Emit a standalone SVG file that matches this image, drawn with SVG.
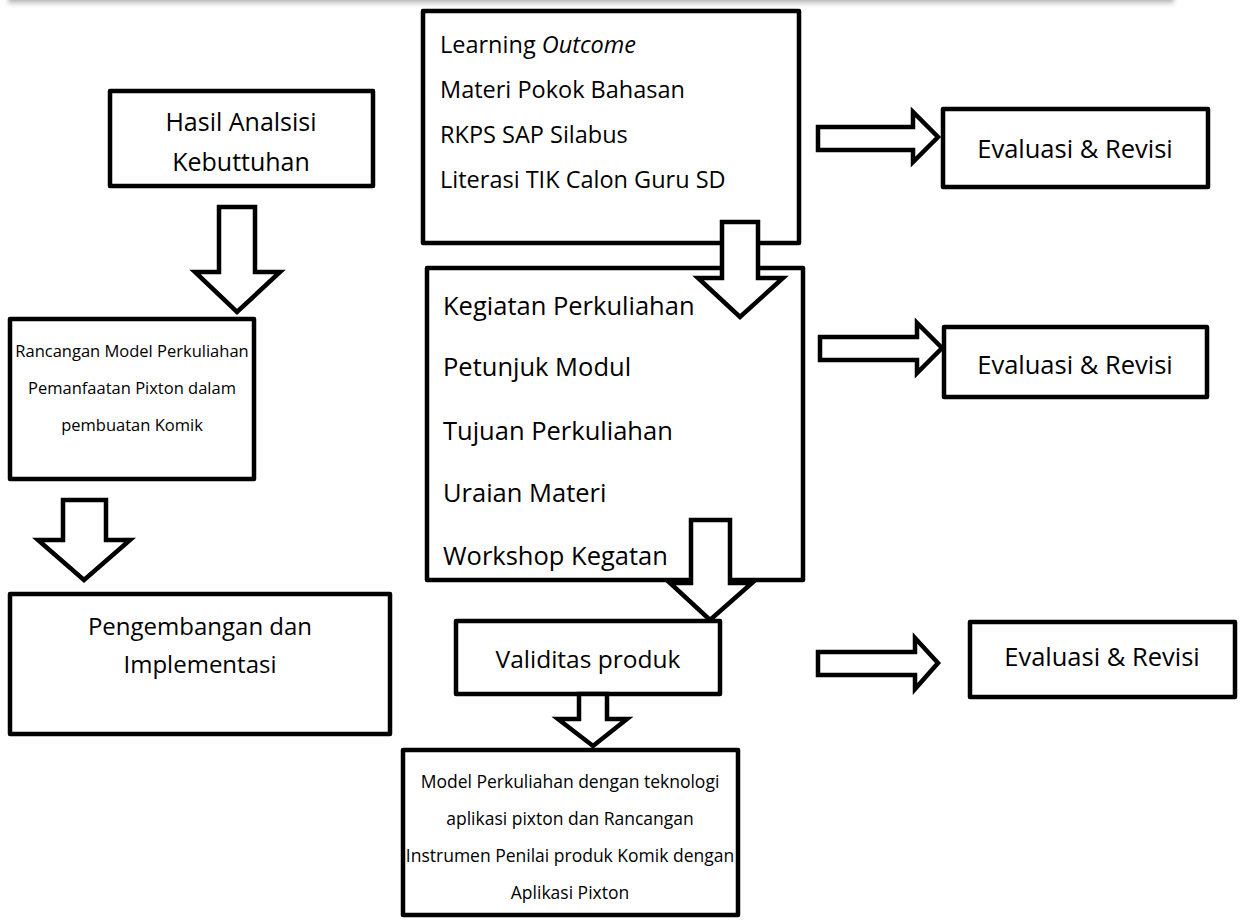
<svg xmlns="http://www.w3.org/2000/svg" width="1241" height="922" viewBox="0 0 1241 922">
<defs>
<linearGradient id="shadow" x1="0" y1="0" x2="0" y2="1">
<stop offset="0" stop-color="#8a8a8a"/>
<stop offset="1" stop-color="#ffffff"/>
</linearGradient>
<filter id="blur" x="-5%" y="-100%" width="110%" height="300%"><feGaussianBlur stdDeviation="2"/></filter>
<style>
.box{fill:#fff;stroke:#000;stroke-width:4.5;stroke-linejoin:round}
.arr{fill:#fff;stroke:#000;stroke-width:4.5;stroke-linejoin:miter}
text{font-family:"Open Sans","Liberation Sans",sans-serif;fill:#000}
.c{text-anchor:middle}
.l{font-size:23.5px}
.k{font-size:25.5px}
.e{font-size:25.5px}
.s{font-size:17.5px}
.r{font-size:16.5px}
</style>
</defs>
<rect width="1241" height="922" fill="#fff"/>
<rect x="8" y="-4" width="1166" height="10" fill="url(#shadow)" filter="url(#blur)"/>

<g id="hasil">
<rect class="box" x="110" y="91" width="263" height="95"/>
<text class="c" font-size="25px" x="241" y="131">Hasil Analsisi</text>
<text class="c" font-size="25px" x="241" y="171">Kebuttuhan</text>
</g>

<g id="rancangan">
<rect class="box" x="10" y="319" width="244" height="160"/>
<text class="c r" x="132" y="357">Rancangan Model Perkuliahan</text>
<text class="c r" x="132" y="394">Pemanfaatan Pixton dalam</text>
<text class="c r" x="132" y="431">pembuatan Komik</text>
</g>

<g id="pengembangan">
<rect class="box" x="10" y="594" width="380" height="140"/>
<text class="c" font-size="24px" x="200" y="635">Pengembangan dan</text>
<text class="c" font-size="24px" x="200" y="673">Implementasi</text>
</g>

<g id="learning">
<rect class="box" x="423" y="11" width="376" height="232"/>
<text class="l" x="440" y="53">Learning <tspan font-style="italic">Outcome</tspan></text>
<text class="l" x="440" y="98">Materi Pokok Bahasan</text>
<text class="l" x="440" y="143">RKPS SAP Silabus</text>
<text class="l" x="440" y="188">Literasi TIK Calon Guru SD</text>
</g>

<g id="kegiatan">
<rect class="box" x="427" y="268" width="376" height="312"/>
<text class="k" x="443" y="315">Kegiatan Perkuliahan</text>
<text class="k" x="443" y="376">Petunjuk Modul</text>
<text class="k" x="443" y="440">Tujuan Perkuliahan</text>
<text class="k" x="443" y="502">Uraian Materi</text>
<text class="k" x="443" y="565">Workshop Kegatan</text>
</g>

<g id="validitas">
<rect class="box" x="456" y="621" width="264" height="73"/>
<text class="c" font-size="24.5px" x="588" y="668">Validitas produk</text>
</g>

<g id="model">
<rect class="box" x="403" y="750" width="335" height="165"/>
<text class="c s" x="570" y="788">Model Perkuliahan dengan teknologi</text>
<text class="c s" x="570" y="825">aplikasi pixton dan Rancangan</text>
<text class="c s" x="570" y="862">Instrumen Penilai produk Komik dengan</text>
<text class="c s" x="570" y="899">Aplikasi Pixton</text>
</g>

<g id="eval1">
<rect class="box" x="943" y="109" width="265" height="78"/>
<text class="c e" x="1075" y="158">Evaluasi &amp; Revisi</text>
</g>
<g id="eval2">
<rect class="box" x="944" y="327" width="263" height="70"/>
<text class="c e" x="1075" y="374">Evaluasi &amp; Revisi</text>
</g>
<g id="eval3">
<rect class="box" x="970" y="622" width="265" height="75"/>
<text class="c e" x="1102" y="666">Evaluasi &amp; Revisi</text>
</g>

<g id="connectors">
<polygon class="arr" points="219,207 255,207 255,272 280,272 237,312 195,272 219,272"/>
<polygon class="arr" points="63,500 106,500 106,540 130,540 84,580 38,540 63,540"/>
<polygon class="arr" points="722,222 758,222 758,278 783,278 740,317 698,278 722,278"/>
<polygon class="arr" points="691,520 730,520 730,583 752,583 710,620 670,583 691,583"/>
<polygon class="arr" points="579,694 607,694 607,719 627,719 593,746 558,719 579,719"/>
<polygon class="arr" points="818,127 913,127 913,112 938,137 913,162 913,150 818,150"/>
<polygon class="arr" points="820,337 917,337 917,323 942,348 917,373 917,360 820,360"/>
<polygon class="arr" points="818,652 915,652 915,638 938,663 915,689 915,675 818,675"/>
</g>
</svg>
